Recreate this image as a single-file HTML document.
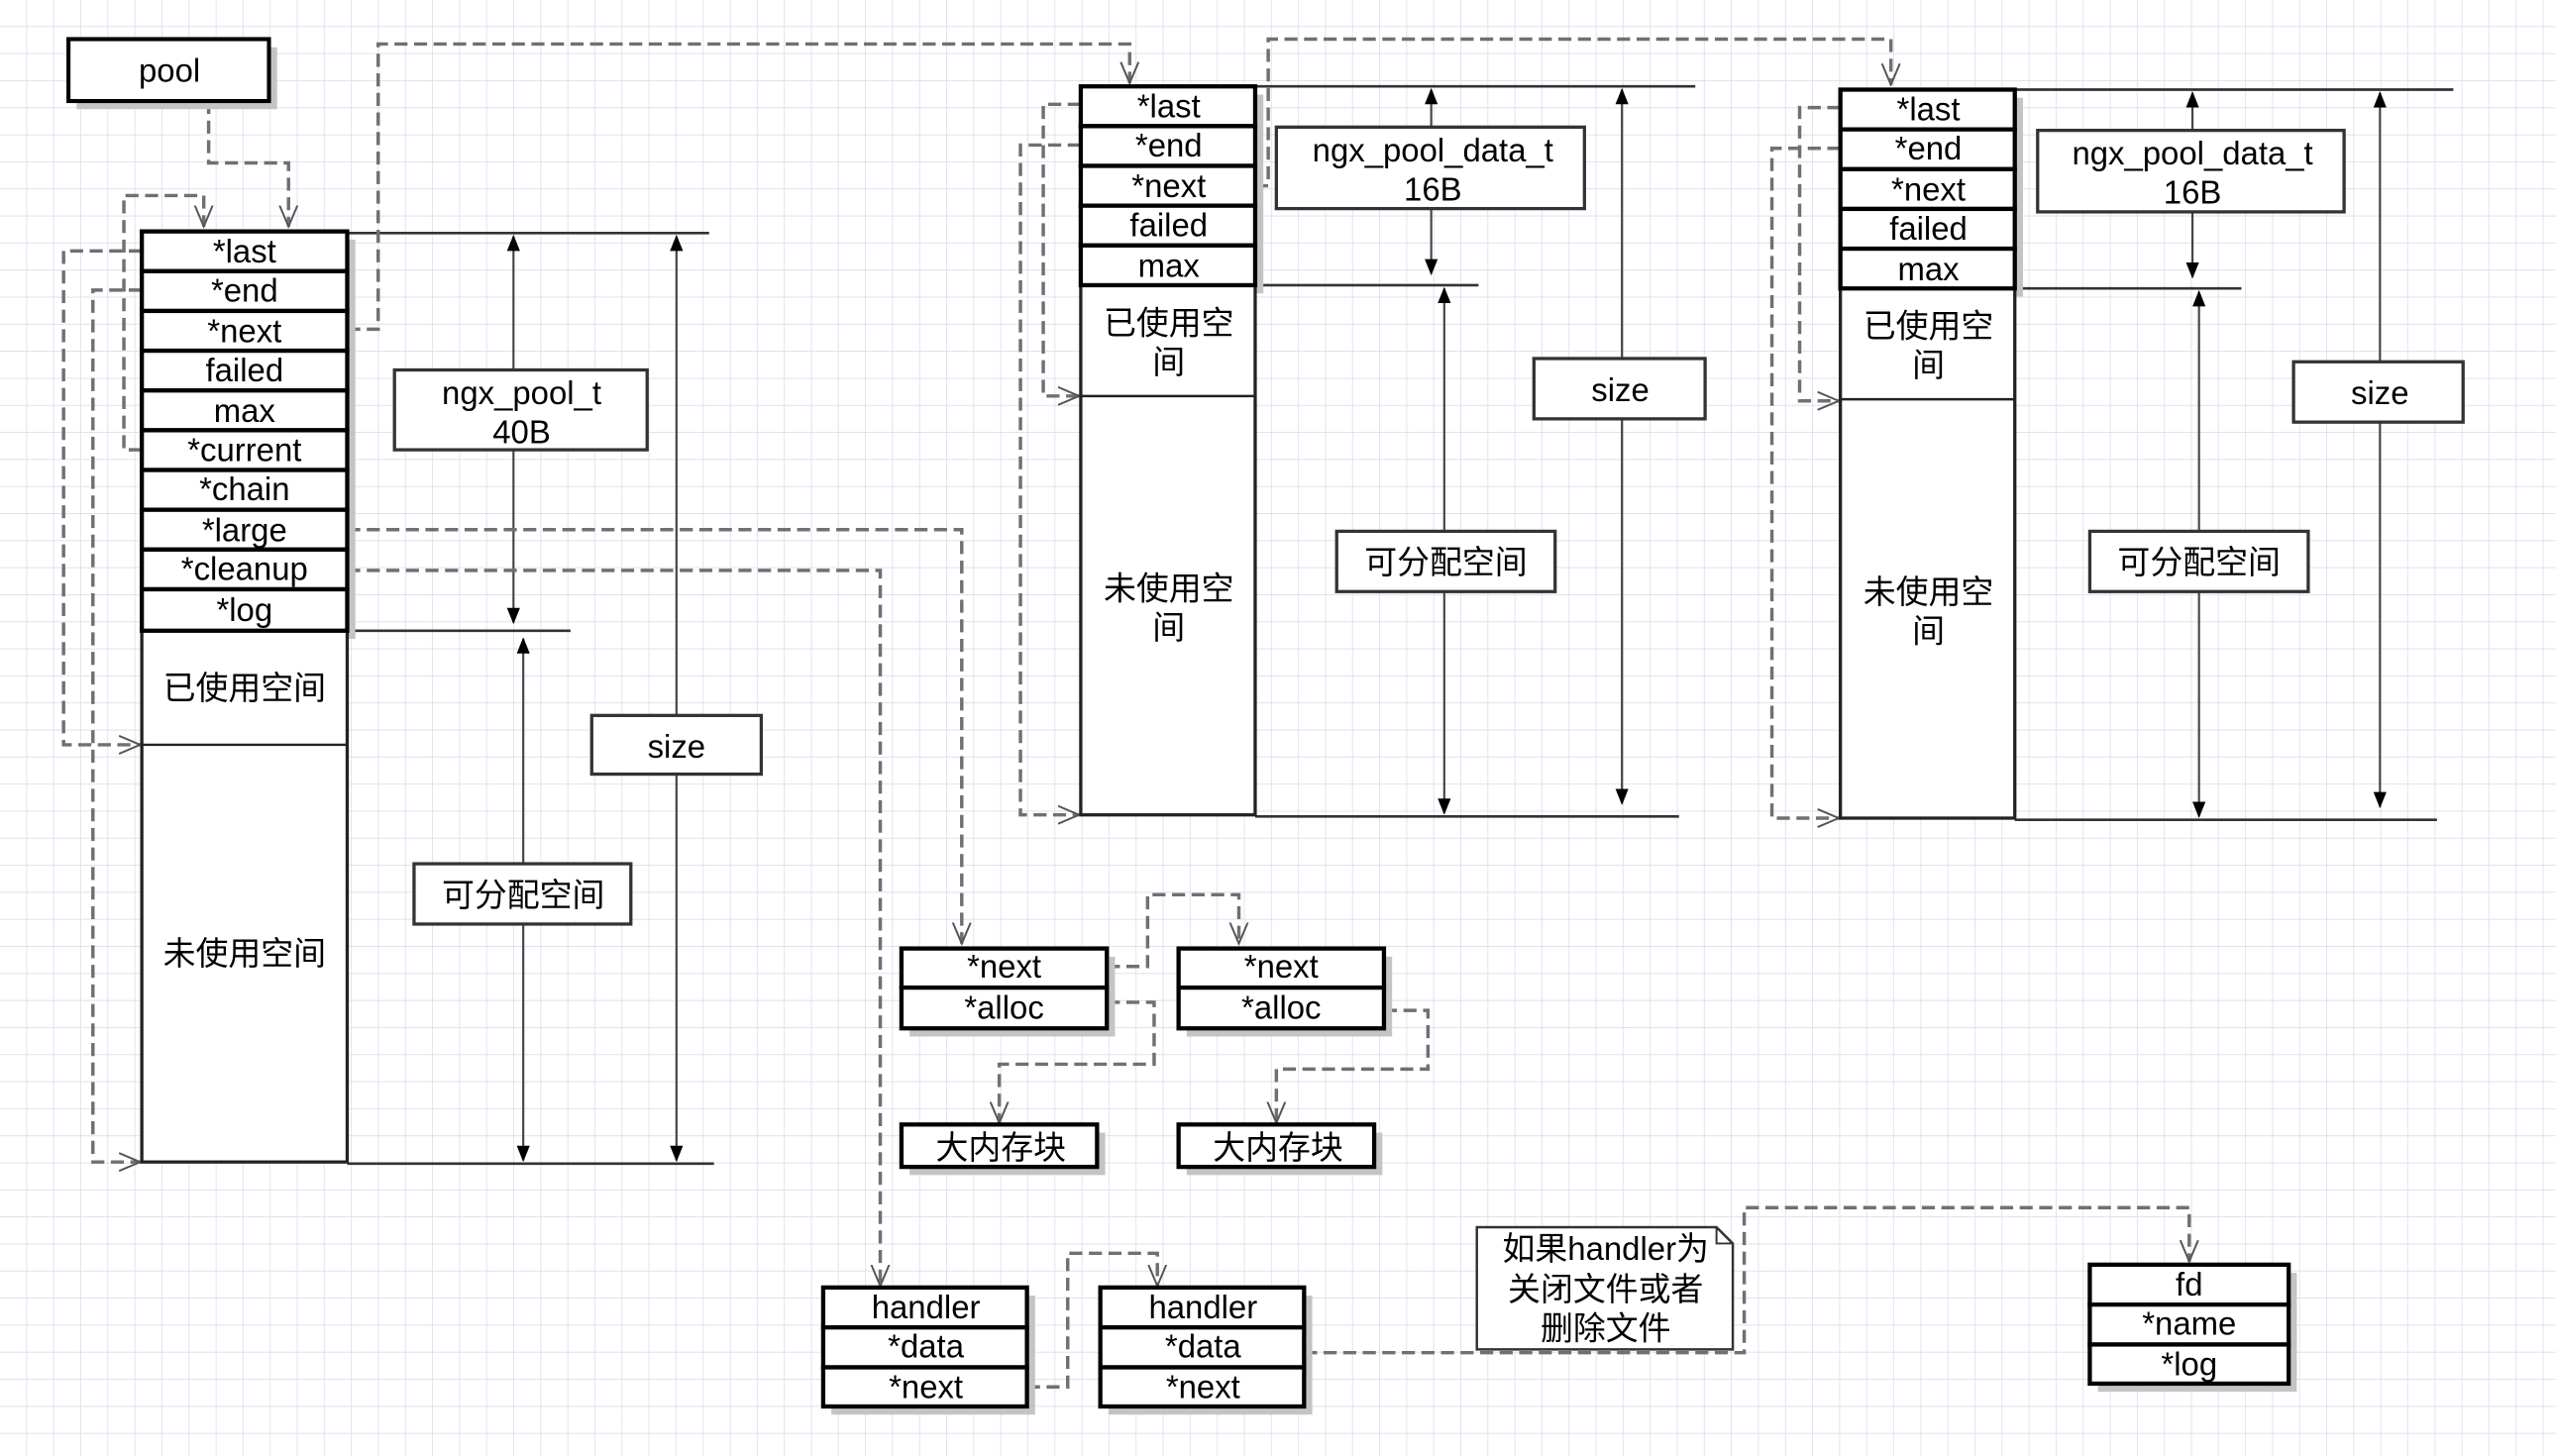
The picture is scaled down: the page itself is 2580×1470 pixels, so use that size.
<!DOCTYPE html>
<html><head><meta charset="utf-8"><style>
html,body{margin:0;padding:0;background:#fff;}
svg{display:block;}
text{font-family:"Liberation Sans","Noto Sans CJK SC",sans-serif;fill:#000;}
</style></head><body>
<svg width="2580" height="1470" viewBox="0 0 1568 893.4" preserveAspectRatio="none" xmlns="http://www.w3.org/2000/svg">
<defs>
<pattern id="g" width="16.6" height="16.6" patternUnits="userSpaceOnUse">
<path d="M16.6 0V16.6H0" fill="none" stroke="#dcdcf0" stroke-width="1"/>
</pattern>
<marker id="sa" markerWidth="10" markerHeight="10" refX="9" refY="5" orient="auto" markerUnits="userSpaceOnUse"><path d="M0 1L10 5L0 9Z" fill="#000"/></marker>
<marker id="sb" markerWidth="10" markerHeight="10" refX="1" refY="5" orient="auto" markerUnits="userSpaceOnUse"><path d="M10 1L0 5L10 9Z" fill="#000"/></marker>
<marker id="oa" markerWidth="14" markerHeight="12" refX="13" refY="6" orient="auto" markerUnits="userSpaceOnUse"><path d="M0 0.5L13 6L0 11.5" fill="none" stroke="#555" stroke-width="1.2"/></marker>
</defs>
<rect width="1568" height="893.4" fill="#fff"/>
<rect width="1568" height="893.4" fill="url(#g)"/>

<g stroke="#333" stroke-width="1.6">
<line x1="213" y1="143" x2="435" y2="143"/>
<line x1="213" y1="387" x2="350" y2="387"/>
<line x1="213" y1="714" x2="438" y2="714"/>
<line x1="770" y1="53" x2="1040" y2="53"/>
<line x1="770" y1="175" x2="907" y2="175"/>
<line x1="770" y1="501" x2="1030" y2="501"/>
<line x1="1236" y1="55" x2="1505" y2="55"/>
<line x1="1236" y1="177" x2="1375" y2="177"/>
<line x1="1236" y1="503" x2="1495" y2="503"/>
</g>
<g stroke="#444" stroke-width="1.3" marker-start="url(#sb)" marker-end="url(#sa)">
<line x1="315" y1="145" x2="315" y2="382"/>
<line x1="321" y1="392" x2="321" y2="712"/>
<line x1="415" y1="145" x2="415" y2="712"/>
<line x1="878" y1="55" x2="878" y2="168"/>
<line x1="886" y1="177" x2="886" y2="499"/>
<line x1="995" y1="55" x2="995" y2="493"/>
<line x1="1345" y1="57" x2="1345" y2="170"/>
<line x1="1349" y1="179" x2="1349" y2="501"/>
<line x1="1460" y1="57" x2="1460" y2="495"/>
</g>

<g fill="none" stroke="#707070" stroke-width="2.1" stroke-dasharray="8,4">
<path d="M128 62V100H177V139" marker-end="url(#oa)"/>
<path d="M87 276H76V120H125V139" marker-end="url(#oa)"/>
<path d="M87 154H39V457H86" marker-end="url(#oa)"/>
<path d="M87 178H57V713H86" marker-end="url(#oa)"/>
<path d="M213 202H232V27H693V51" marker-end="url(#oa)"/>
<path d="M213 325H590V579" marker-end="url(#oa)"/>
<path d="M213 350H540V789" marker-end="url(#oa)"/>
<path d="M663 64H640V243H662" marker-end="url(#oa)"/>
<path d="M663 89H626V500H662" marker-end="url(#oa)"/>
<path d="M770 114H778V24H1160V52" marker-end="url(#oa)"/>
<path d="M1129 66H1104V246H1128" marker-end="url(#oa)"/>
<path d="M1129 91H1087V502H1128" marker-end="url(#oa)"/>
<path d="M679 593H704V549H760V579" marker-end="url(#oa)"/>
<path d="M679 615H708V653H613V689" marker-end="url(#oa)"/>
<path d="M849 620H876V656H783V689" marker-end="url(#oa)"/>
<path d="M630 851H655V769H710V789" marker-end="url(#oa)"/>
<path d="M800 830H1070V741H1343V774" marker-end="url(#oa)"/>
</g>

<g fill="#c4c4c4">
<rect x="47" y="29" width="123" height="38"/>
<rect x="92" y="147" width="126" height="245"/>
<rect x="668" y="58" width="107" height="122"/>
<rect x="1134" y="60" width="107" height="122"/>
<rect x="558" y="587" width="126" height="49"/>
<rect x="728" y="587" width="126" height="49"/>
<rect x="558" y="695" width="120" height="26"/>
<rect x="728" y="695" width="120" height="26"/>
<rect x="510" y="795" width="125" height="73"/>
<rect x="680" y="795" width="125" height="73"/>
<rect x="1287" y="781" width="122" height="73"/>
</g>

<rect x="42" y="24" width="123" height="38" fill="#fff" stroke="#000" stroke-width="2.5"/>
<text x="104" y="50" font-size="20" text-anchor="middle">pool</text>

<rect x="87" y="387" width="126" height="326" fill="#fff" stroke="#222" stroke-width="2"/>
<line x1="87" y1="457" x2="213" y2="457" stroke="#222" stroke-width="1.5"/>
<g fill="#fff" stroke="#000" stroke-width="2.6">
<rect x="87" y="142" width="126" height="24.4"/><rect x="87" y="166.4" width="126" height="24.4"/>
<rect x="87" y="190.8" width="126" height="24.4"/><rect x="87" y="215.2" width="126" height="24.4"/>
<rect x="87" y="239.6" width="126" height="24.4"/><rect x="87" y="264" width="126" height="24.4"/>
<rect x="87" y="288.4" width="126" height="24.4"/><rect x="87" y="312.8" width="126" height="24.4"/>
<rect x="87" y="337.2" width="126" height="24.4"/><rect x="87" y="361.6" width="126" height="25.4"/>
</g>
<g font-size="20" text-anchor="middle">
<text x="150" y="161">*last</text><text x="150" y="185">*end</text><text x="150" y="210">*next</text>
<text x="150" y="234">failed</text><text x="150" y="259">max</text><text x="150" y="283">*current</text>
<text x="150" y="307">*chain</text><text x="150" y="332">*large</text><text x="150" y="356">*cleanup</text>
<text x="150" y="381">*log</text>
<text x="150" y="429">已使用空间</text><text x="150" y="592">未使用空间</text>
</g>

<rect x="663" y="175" width="107" height="325" fill="#fff" stroke="#222" stroke-width="2"/>
<line x1="663" y1="243" x2="770" y2="243" stroke="#222" stroke-width="1.5"/>
<g fill="#fff" stroke="#000" stroke-width="2.6">
<rect x="663" y="53" width="107" height="24.4"/><rect x="663" y="77.4" width="107" height="24.4"/>
<rect x="663" y="101.8" width="107" height="24.4"/><rect x="663" y="126.2" width="107" height="24.4"/>
<rect x="663" y="150.6" width="107" height="24.4"/>
</g>
<g font-size="20" text-anchor="middle">
<text x="717" y="72">*last</text><text x="717" y="96">*end</text><text x="717" y="121">*next</text>
<text x="717" y="145">failed</text><text x="717" y="170">max</text>
<text x="717" y="205">已使用空</text><text x="717" y="229">间</text>
<text x="717" y="368">未使用空</text><text x="717" y="392">间</text>
</g>

<rect x="1129" y="177" width="107" height="325" fill="#fff" stroke="#222" stroke-width="2"/>
<line x1="1129" y1="245" x2="1236" y2="245" stroke="#222" stroke-width="1.5"/>
<g fill="#fff" stroke="#000" stroke-width="2.6">
<rect x="1129" y="55" width="107" height="24.4"/><rect x="1129" y="79.4" width="107" height="24.4"/>
<rect x="1129" y="103.8" width="107" height="24.4"/><rect x="1129" y="128.2" width="107" height="24.4"/>
<rect x="1129" y="152.6" width="107" height="24.4"/>
</g>
<g font-size="20" text-anchor="middle">
<text x="1183" y="74">*last</text><text x="1183" y="98">*end</text><text x="1183" y="123">*next</text>
<text x="1183" y="147">failed</text><text x="1183" y="172">max</text>
<text x="1183" y="207">已使用空</text><text x="1183" y="231">间</text>
<text x="1183" y="370">未使用空</text><text x="1183" y="394">间</text>
</g>

<g fill="#fff" stroke="#333" stroke-width="2">
<rect x="242" y="227" width="155" height="49"/>
<rect x="254" y="530" width="133" height="37"/>
<rect x="363" y="439" width="104" height="36"/>
<rect x="783" y="78" width="189" height="50"/>
<rect x="820" y="326" width="134" height="37"/>
<rect x="941" y="220" width="105" height="37"/>
<rect x="1250" y="80" width="188" height="50"/>
<rect x="1282" y="326" width="134" height="37"/>
<rect x="1407" y="222" width="104" height="37"/>
</g>
<g font-size="20" text-anchor="middle">
<text x="320" y="248">ngx_pool_t</text><text x="320" y="272">40B</text>
<text x="321" y="556">可分配空间</text>
<text x="415" y="465">size</text>
<text x="879" y="99">ngx_pool_data_t</text><text x="879" y="123">16B</text>
<text x="887" y="352">可分配空间</text>
<text x="994" y="246">size</text>
<text x="1345" y="101">ngx_pool_data_t</text><text x="1345" y="125">16B</text>
<text x="1349" y="352">可分配空间</text>
<text x="1460" y="248">size</text>
</g>

<g fill="#fff" stroke="#000" stroke-width="2.6">
<rect x="553" y="582" width="126" height="24"/><rect x="553" y="606" width="126" height="25"/>
<rect x="723" y="582" width="126" height="24"/><rect x="723" y="606" width="126" height="25"/>
<rect x="553" y="690" width="120" height="26"/><rect x="723" y="690" width="120" height="26"/>
<rect x="505" y="790" width="125" height="24.5"/><rect x="505" y="814.5" width="125" height="24.5"/><rect x="505" y="839" width="125" height="24"/>
<rect x="675" y="790" width="125" height="24.5"/><rect x="675" y="814.5" width="125" height="24.5"/><rect x="675" y="839" width="125" height="24"/>
<rect x="1282" y="776" width="122" height="24.5"/><rect x="1282" y="800.5" width="122" height="24.5"/><rect x="1282" y="825" width="122" height="24"/>
</g>
<g font-size="20" text-anchor="middle">
<text x="616" y="600">*next</text><text x="616" y="625">*alloc</text>
<text x="786" y="600">*next</text><text x="786" y="625">*alloc</text>
<text x="614" y="711">大内存块</text><text x="784" y="711">大内存块</text>
<text x="568" y="809">handler</text><text x="568" y="833">*data</text><text x="568" y="858">*next</text>
<text x="738" y="809">handler</text><text x="738" y="833">*data</text><text x="738" y="858">*next</text>
<text x="1343" y="795">fd</text><text x="1343" y="819">*name</text><text x="1343" y="844">*log</text>
</g>

<path d="M906 753H1053L1063 763V828H906Z" fill="#fff" stroke="#333" stroke-width="1.5"/>
<path d="M1053 753V763H1063" fill="none" stroke="#333" stroke-width="1.2"/>
<g font-size="20" text-anchor="middle">
<text x="985" y="773">如果handler为</text>
<text x="985" y="798">关闭文件或者</text>
<text x="985" y="822">删除文件</text>
</g>
</svg>
</body></html>
